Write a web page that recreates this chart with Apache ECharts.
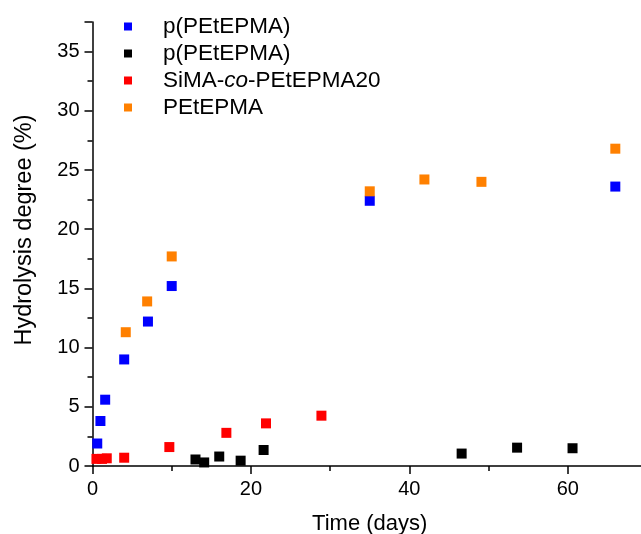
<html>
<head>
<meta charset="UTF-8">
<title>Hydrolysis degree</title>
<script type="text/javascript" src="https://cdn.jsdelivr.net/npm/echarts@6/dist/echarts.min.js"></script>
<style>
  html, body { margin: 0; padding: 0; background: #fff; }
  #main { width: 641px; height: 534px; }
</style>
</head>
<body>
<div id="main"></div>
<script type="text/javascript">
// series data: [time (days), hydrolysis degree (%)]
var bluePts = [[0.6, 1.9], [1.0, 3.8], [1.6, 5.6], [4.0, 9.0], [7.0, 12.2], [10.0, 15.2], [35.0, 22.4], [66.0, 23.6]];
var blackPts = [[13.0, 0.55], [14.1, 0.3], [16.0, 0.8], [18.7, 0.45], [21.6, 1.35], [46.6, 1.05], [53.6, 1.55], [60.6, 1.5]];
var redPts = [[0.5, 0.6], [1.2, 0.6], [1.8, 0.65], [4.0, 0.7], [9.7, 1.6], [16.9, 2.8], [21.9, 3.6], [28.9, 4.25]];
var orangePts = [[4.2, 11.3], [6.9, 13.9], [10.0, 17.7], [35.0, 23.2], [41.9, 24.2], [49.1, 24.0], [66.0, 26.8]];

// names (second one has a trailing space so the legend keeps both rows)
var names = ['p(PEtEPMA)', 'p(PEtEPMA) ', 'SiMA-co-PEtEPMA20', 'PEtEPMA'];
var colors = ['#0000ff', '#000000', '#ff0000', '#ff8000'];

var font = 'Liberation Sans, Arial, sans-serif';
var myChart = echarts.init(document.getElementById('main'));

function mk(i, pts) {
  return {
    name: names[i],
    type: 'scatter',
    symbol: 'rect',
    symbolSize: 10,
    itemStyle: { color: colors[i], opacity: 1 },
    data: pts
  };
}

var option = {
  animation: false,
  backgroundColor: '#fff',
  color: colors,
  grid: { left: 92.5, right: -6, top: 22, bottom: 68, outerBoundsMode: 'none' },
  legend: {
    orient: 'vertical',
    left: 119,
    top: 10,
    icon: 'rect',
    itemWidth: 8,
    itemHeight: 8,
    itemGap: 4,
    data: names,
    formatter: function (name) {
      if (name === 'SiMA-co-PEtEPMA20') return '{n|SiMA-}{i|co}{n|-PEtEPMA20}';
      return name;
    },
    textStyle: {
      fontFamily: font, fontSize: 22.5, color: '#000', padding: [0, 0, 0, 26],
      rich: {
        n: { fontFamily: font, fontSize: 22.5, color: '#000' },
        i: { fontFamily: font, fontSize: 22.5, color: '#000', fontStyle: 'italic' }
      }
    }
  },
  xAxis: {
    type: 'value',
    min: 0,
    max: 70,
    interval: 20,
    name: 'Time (days)',
    nameLocation: 'middle',
    nameGap: 47,
    nameTextStyle: { fontFamily: font, fontSize: 22, color: '#000' },
    axisLine: { onZero: false, lineStyle: { color: '#000', width: 1.5 } },
    axisTick: { inside: false, length: 8, lineStyle: { color: '#000', width: 1.5 } },
    minorTick: { show: true, splitNumber: 2, length: 5, lineStyle: { color: '#000', width: 1.5 } },
    axisLabel: { fontFamily: font, fontSize: 20, color: '#000', margin: 13, showMaxLabel: false },
    splitLine: { show: false }
  },
  yAxis: {
    type: 'value',
    min: 0,
    max: 37.5,
    interval: 5,
    name: 'Hydrolysis degree (%)',
    nameLocation: 'middle',
    nameGap: 56,
    nameRotate: 90,
    nameTextStyle: { fontFamily: font, fontSize: 23.5, color: '#000', padding: [0, 0, 0, 28] },
    axisLine: { onZero: false, lineStyle: { color: '#000', width: 1.5 } },
    axisTick: { inside: false, length: 8, lineStyle: { color: '#000', width: 1.5 } },
    minorTick: { show: true, splitNumber: 2, length: 5, lineStyle: { color: '#000', width: 1.5 } },
    axisLabel: { fontFamily: font, fontSize: 20, color: '#000', margin: 13, showMaxLabel: false },
    splitLine: { show: false }
  },
  series: [mk(0, bluePts), mk(1, blackPts), mk(2, redPts), mk(3, orangePts)]
};

myChart.setOption(option);
</script>
</body>
</html>
